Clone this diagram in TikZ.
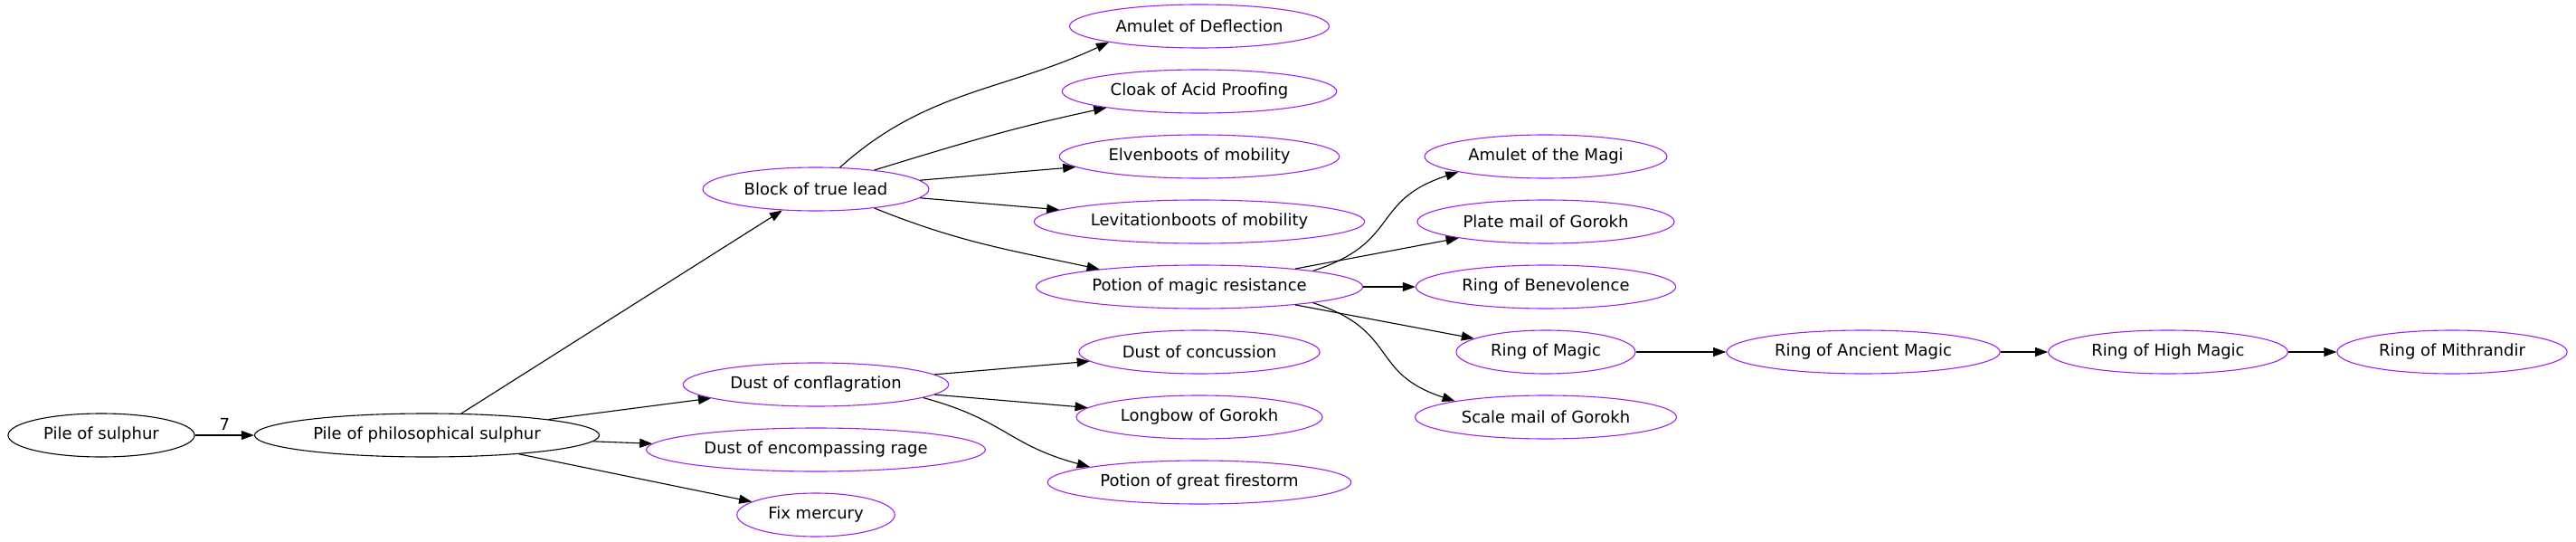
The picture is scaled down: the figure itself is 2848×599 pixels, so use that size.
\documentclass[tikz,border=0pt]{standalone}
\usepackage{fontspec}
\setmainfont{DejaVu Sans}
\usepackage{tikz}
\usetikzlibrary{arrows.meta}
\usetikzlibrary{shapes.geometric}
\definecolor{itempurple}{HTML}{A020F0}

\begin{document}
\begin{tikzpicture}[x=1pt,y=1pt,line width=1.1pt,>={Triangle[length=14pt,width=10pt]}]
\useasboundingbox (0,0) rectangle (2848,-599);

\tikzstyle{rawitem}=[ellipse,draw=black,font=\fontsize{18}{21}\selectfont,inner xsep=9pt,minimum height=48pt]
\tikzstyle{craftitem}=[rawitem,draw=itempurple]

%Column 0 and 1 - black ellipses
\node[rawitem] (C0-481) at (112,-481) {Pile of sulphur};
\node[rawitem] (C1-481) at (472,-481) {Pile of philosophical sulphur};

%Column 2 - purple ellipses
\foreach \name/\y in {Block of true lead/209, Dust of conflagration/425, Dust of encompassing rage/497, Fix mercury/569}
\node[craftitem] (C2-\y) at (902,-\y) {\name};

%Column 3 - purple ellipses
\foreach \name/\y in {Amulet of Deflection/29, Cloak of Acid Proofing/101, Elvenboots of mobility/173, Levitationboots of mobility/245, Potion of magic resistance/317, Dust of concussion/389, Longbow of Gorokh/461, Potion of great firestorm/533}
\node[craftitem] (C3-\y) at (1326,-\y) {\name};

%Column 4 - purple ellipses
\foreach \name/\y in {Amulet of the Magi/173, Plate mail of Gorokh/245, Ring of Benevolence/317, Ring of Magic/389, Scale mail of Gorokh/461}
\node[craftitem] (C4-\y) at (1709,-\y) {\name};

%Ring row
\foreach \name/\x in {Ring of Ancient Magic/5, Ring of High Magic/6, Ring of Mithrandir/7}
\node[craftitem] (C\x-389) at ({\x==5 ? 2060 : (\x==6 ? 2397 : 2711)},-389) {\name};

%Links
\draw [->] (C0-481) -- node[above,inner sep=5pt,font=\fontsize{18}{21}\selectfont] {7} (C1-481);
\foreach \to in {209,425,497,569}
\draw [->] (C1-481) -- (C2-\to);

%from Block of true lead
\draw [->] (C2-209) to[out=42,in=205] (C3-29.190);
\draw [->] (C2-209.18) to[out=17,in=192] (C3-101.190);
\foreach \to in {173,245}
\draw [->] (C2-209) -- (C3-\to);
\draw [->] (C2-209.-18) to[out=-22,in=168] (C3-317.170);

%from Dust of conflagration
\foreach \to in {389,461}
\draw [->] (C2-425) -- (C3-\to);
\draw [->] (C2-425.-7) to[out=-15,in=165,looseness=1.2] (C3-533.172);

%from Potion of magic resistance
\draw [->] (C3-317.8) to[out=18,in=198,looseness=1.35] (C4-173.190);
\foreach \to in {245,317,389}
\draw [->] (C3-317) -- (C4-\to);
\draw [->] (C3-317.-8) to[out=-18,in=162,looseness=1.35] (C4-461.170);

%Ring chain
\foreach \from/\to in {4/5,5/6,6/7}
\draw [->] (C\from-389) -- (C\to-389);

\end{tikzpicture}
\end{document}
